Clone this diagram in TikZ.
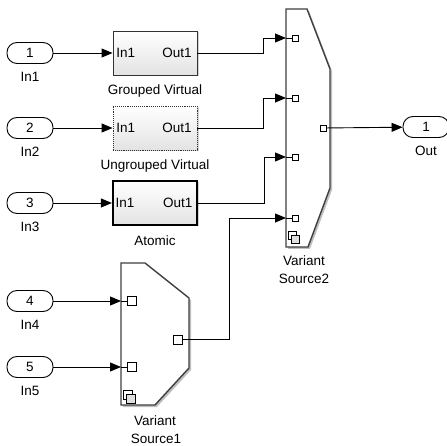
\documentclass[tikz,border=0pt]{standalone}
\usepackage{fontspec}
\setmainfont{Liberation Sans}
\usetikzlibrary{arrows.meta,positioning,shadows}

\begin{document}
\begin{tikzpicture}[x=1pt,y=-1pt, line width=0.9pt,
        font=\fontsize{13.5}{15}\selectfont,
        inport/.style={draw, rounded corners=10pt, minimum width=46pt, minimum height=21pt, inner sep=0pt, fill=white},
        bloc/.style={draw=black!80, minimum width=84pt, minimum height=44pt, top color=white, bottom color=gray!22,
            drop shadow={shadow xshift=1.5pt, shadow yshift=-1.5pt, opacity=0.35}},
        sig/.style={-{Triangle[length=11pt,width=9pt]}},
        carre/.style={draw, fill=white, inner sep=0pt, line width=0.7pt, minimum size=#1},
        carre/.default=6pt,
        contour/.style={draw=black!75, line width=1.4pt, fill=white, line join=miter},
        ombre/.style={fill=black!25, draw=none}]
        \useasboundingbox (0,0) rectangle (447,446);
        % Entrees
        \foreach \i/\y in {1/53, 2/128, 3/203, 4/301, 5/367} {
            \node[inport] (in\i) at (30,\y) {\i};
            \node (lin\i) at (30,\y+24) {In\i};
        }
        % Sous-systemes
        \node[bloc] (gv) at (155,53) {};
        \node[bloc, densely dotted] (ugv) at (155,128) {};
        \node[bloc, line width=2.2pt, draw=black] (at) at (155,203) {};
        \foreach \b in {gv, ugv, at} {
            \node[anchor=west] (\b-in) at (\b.west) {In1};
            \node[anchor=east, xshift=-2pt] (\b-out) at (\b.east) {Out1};
        }
        \node (lgv) at (155,91) {Grouped Virtual};
        \node (lugv) at (155,166) {Ungrouped Virtual};
        \node (lat) at (155,241) {Atomic};
        % Variant Source2
        \fill[ombre] (288,11) -- (309,11) -- (332,71) -- (332,190) -- (310,249) -- (288,249) -- cycle;
        \draw[contour] (286,9) -- (307,9) -- (330,69) -- (330,188) -- (308,247) -- (286,247) -- cycle;
        \foreach \k/\y in {1/38, 2/98, 3/157, 4/218} {
            \coordinate (vs2b\k) at (286,\y);
            \node[carre] (vs2p\k) at (295.5,\y) {};
            \draw (vs2b\k) -- (vs2p\k);
        }
        \node[carre] (vs2o) at (323,128) {};
        \draw[fill=white, line width=0.7pt] (288,231) rectangle (296,239);
        \draw[fill=black!12, line width=0.7pt] (291,235) rectangle (299,243);
        \node (lvs2a) at (304,261) {Variant};
        \node (lvs2b) at (304,279) {Source2};
        % Variant Source1
        \fill[ombre] (123,265) -- (147,265) -- (191,300) -- (191,370) -- (157,407) -- (123,407) -- cycle;
        \draw[contour] (121,263) -- (145,263) -- (189,298) -- (189,368) -- (155,405) -- (121,405) -- cycle;
        \foreach \k/\y in {1/301, 2/367} {
            \coordinate (vs1b\k) at (121,\y);
            \node[carre=9pt] (vs1p\k) at (131.5,\y) {};
            \draw (vs1b\k) -- (vs1p\k);
        }
        \node[carre=9pt] (vs1o) at (178,339.5) {};
        \draw[fill=white, line width=0.7pt] (123,390) rectangle (132,399);
        \draw[fill=black!12, line width=0.7pt] (126,394) rectangle (135,403);
        \node (lvs1a) at (155,421) {Variant};
        \node (lvs1b) at (156,439) {Source1};
        % Sortie
        \node[inport] (out1) at (426,127) {1};
        \node (lout) at (426,151) {Out};
        % Liaisons
        \draw[sig] (in1) -- (gv);
        \draw[sig] (in2) -- (ugv);
        \draw[sig] (in3) -- (at);
        \draw[sig] (in4) -- (vs1b1);
        \draw[sig] (in5) -- (vs1b2);
        \draw[sig] (gv.east) -- ++(66,0) |- (vs2b1);
        \draw[sig] (ugv.east) -- ++(66,0) |- (vs2b2);
        \draw[sig] (at.east) -- ++(66,0) |- (vs2b3);
        \draw[sig] (vs1o.east) -- ++(47,0) |- (vs2b4);
        \draw[sig] (vs2o) -- (out1);
    \end{tikzpicture}
\end{document}
